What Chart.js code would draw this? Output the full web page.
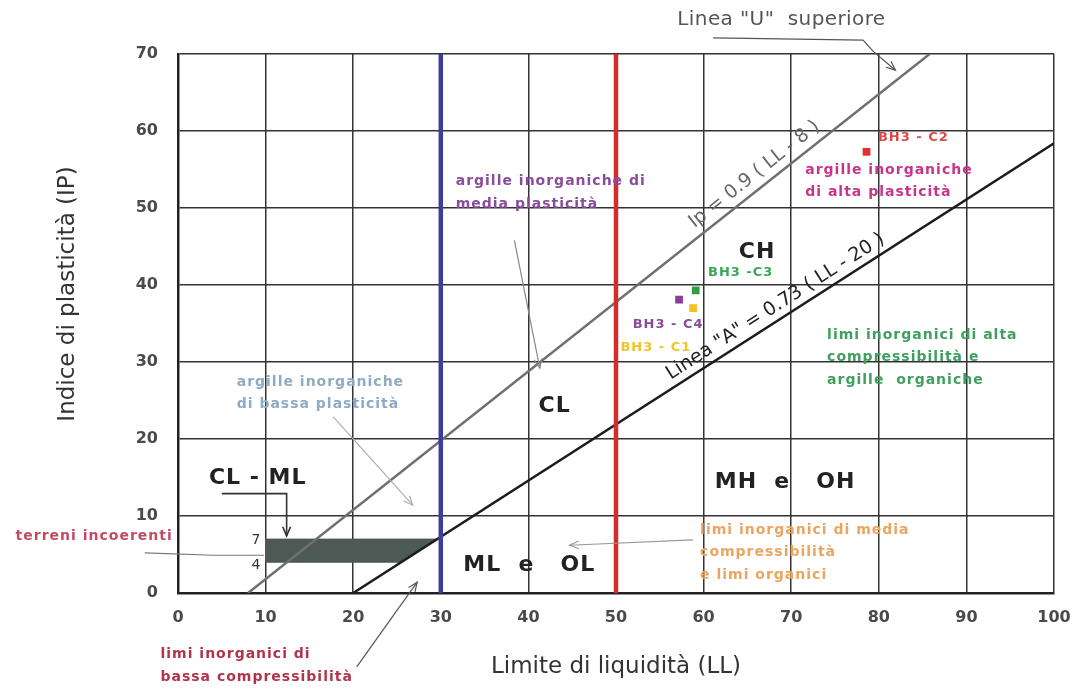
<!DOCTYPE html>
<html lang="it">
<head>
<meta charset="utf-8">
<title>Carta di plasticità di Casagrande</title>
<script src="https://cdn.jsdelivr.net/npm/chart.js@4.4.1/dist/chart.umd.min.js"></script>
<style>
  html, body { margin: 0; padding: 0; background: #fff; }
  #wrap { width: 1080px; height: 689px; position: relative; }
</style>
</head>
<body>
<div id="wrap"><canvas id="myChart"></canvas></div>
<script>
// Data
const xTicks = [0, 10, 20, 30, 40, 50, 60, 70, 80, 90, 100]
const yTicks = [0, 10, 20, 30, 40, 50, 60, 70]

// linea "U": Ip = 0.9 (LL - 8)
const uLineLL = [8, 85.8]
const uLineIP = [0, 70]
// linea "A": Ip = 0.73 (LL - 20)
const aLineLL = [20, 100]
const aLineIP = [0, 58.4]
// limiti LL = 30 e LL = 50
const lowLimitLL = [30, 30]
const highLimitLL = [50, 50]
const limitIP = [0, 70]
// zona CL - ML (Ip tra 4 e 7)
const clmlLL = [10, 29.6, 25.5, 10, 10]
const clmlIP = [7, 7, 4, 4, 7]

// campioni
const sampleNames = ['BH3 - C1', 'BH3 - C2', 'BH3 - C3', 'BH3 - C4']
const sampleLL = [58.8, 78.6, 59.1, 57.2]
const sampleIP = [37.0, 57.3, 39.3, 38.1]
const sampleColors = ['#f2c51e', '#e03030', '#2f9f4a', '#8a3f98']

const toPoints = (xs, ys) => xs.map((v, i) => ({ x: v, y: ys[i] }))

const small = 'bold 14px "DejaVu Sans"'
const big = 'bold 22px "DejaVu Sans"'

// text written on the chart (position in LL / IP units)
const labels = [
  { lines: ['Linea "U"  superiore'], ll: 57.0, ip: 74.4, font: '20px "DejaVu Sans"', color: '#555', sp: '0.4px' },
  { lines: ['CH'], ll: 66.1, ip: 44.3, font: big, color: '#222', align: 'center' },
  { lines: ['CL'], ll: 43.0, ip: 24.3, font: big, color: '#222', align: 'center' },
  { lines: ['CL - ML'], ll: 9.1, ip: 14.9, font: big, color: '#222', align: 'center', sp: '1px' },
  { lines: ['ML  e   OL'], ll: 40.1, ip: 3.6, font: big, color: '#222', align: 'center', sp: '1px' },
  { lines: ['MH  e   OH'], ll: 69.3, ip: 14.4, font: big, color: '#222', align: 'center', sp: '1px' },
  { lines: ['BH3 - C2'], ll: 79.9, ip: 59.2, font: 'bold 13px "DejaVu Sans"', color: '#e04848' },
  { lines: ['BH3 -C3'], ll: 60.5, ip: 41.6, font: 'bold 13px "DejaVu Sans"', color: '#3aa65a' },
  { lines: ['BH3 - C4'], ll: 51.9, ip: 34.9, font: 'bold 13px "DejaVu Sans"', color: '#8a4a9c' },
  { lines: ['BH3 - C1'], ll: 50.5, ip: 31.9, font: 'bold 13px "DejaVu Sans"', color: '#f0c428' },
  { lines: ['argille inorganiche', 'di alta plasticità'], ll: 71.6, ip: 54.9, font: small, color: '#c8348c' },
  { lines: ['limi inorganici di alta', 'compressibilità e', 'argille  organiche'], ll: 74.1, ip: 33.5, font: small, color: '#3f9f5f' },
  { lines: ['argille inorganiche di', 'media plasticità'], ll: 31.7, ip: 53.4, font: small, color: '#8a4c9c' },
  { lines: ['argille inorganiche', 'di bassa plasticità'], ll: 6.7, ip: 27.4, font: small, color: '#8fabc4' },
  { lines: ['limi inorganici di media', 'compressibilità', 'e limi organici'], ll: 59.6, ip: 8.2, font: small, color: '#eba560' },
  { lines: ['terreni incoerenti'], ll: -0.6, ip: 7.3, font: small, color: '#c44a62', align: 'right' },
  { lines: ['limi inorganici di', 'bassa compressibilità'], ll: -2.0, ip: -8.0, font: small, color: '#b2344a' },
  { lines: ['7'], ll: 8.9, ip: 6.9, font: '14px "DejaVu Sans"', color: '#333', align: 'center', sp: '0px' },
  { lines: ['4'], ll: 8.9, ip: 3.6, font: '14px "DejaVu Sans"', color: '#333', align: 'center', sp: '0px' }
]

// labels written along the two lines
const lineLabels = [
  { text: 'Ip = 0.9 ( LL - 8 )', ll: 66.8, slope: 0.9, root: 8, gap: 14, font: '19px "DejaVu Sans"', color: '#666' },
  { text: 'Linea "A" = 0.73 ( LL - 20 )', ll: 69.0, slope: 0.73, root: 20, gap: 13, font: '19px "DejaVu Sans"', color: '#222' }
]

const arrows = [
  { pts: [[61.1, 72.1], [78.2, 71.8], [79.4, 70.3], [81.9, 67.9]], color: '#555' },
  { pts: [[38.4, 45.8], [41.3, 29.2]], color: '#888' },
  { pts: [[17.7, 22.9], [26.8, 11.4]], color: '#a4b0bb' },
  { pts: [[5.0, 12.9], [12.4, 12.9], [12.4, 7.4]], color: '#333', w: 1.6 },
  { pts: [[58.8, 6.9], [44.7, 6.2]], color: '#999' },
  { pts: [[20.4, -9.6], [27.3, 1.4]], color: '#555' },
  { pts: [[-3.8, 5.2], [4.0, 4.9], [9.8, 4.9]], color: '#777', head: false }
]

const notes = {
  id: 'notes',
  afterDatasetsDraw (chart) {
    const { ctx, scales: { x, y } } = chart
    const px = v => x.getPixelForValue(v)
    const py = v => y.getPixelForValue(v)
    ctx.save()

    labels.forEach(l => {
      ctx.font = l.font
      ctx.fillStyle = l.color
      ctx.letterSpacing = l.sp || '1px'
      ctx.textAlign = l.align || 'left'
      ctx.textBaseline = 'middle'
      l.lines.forEach((t, i) => ctx.fillText(t, px(l.ll), py(l.ip) + i * 22.5))
    })
    ctx.letterSpacing = '0px'

    lineLabels.forEach(l => {
      const ang = Math.atan2(py(l.slope * 10) - py(0), px(l.root + 10) - px(l.root))
      const fx = px(l.ll)
      const fy = py(l.slope * (l.ll - l.root))
      ctx.save()
      ctx.translate(fx + Math.sin(ang) * l.gap, fy - Math.cos(ang) * l.gap)
      ctx.rotate(ang)
      ctx.font = l.font
      ctx.fillStyle = l.color
      ctx.textAlign = 'center'
      ctx.textBaseline = 'middle'
      ctx.fillText(l.text, 0, 0)
      ctx.restore()
    })

    arrows.forEach(a => {
      const p = a.pts.map(q => [px(q[0]), py(q[1])])
      ctx.strokeStyle = a.color
      ctx.lineWidth = a.w || 1.2
      ctx.beginPath()
      p.forEach((q, i) => i ? ctx.lineTo(q[0], q[1]) : ctx.moveTo(q[0], q[1]))
      ctx.stroke()
      if (a.head === false) return
      const [x1, y1] = p[p.length - 2]
      const [x2, y2] = p[p.length - 1]
      const t = Math.atan2(y2 - y1, x2 - x1)
      ctx.beginPath()
      ctx.moveTo(x2 - 10 * Math.cos(t - 0.4), y2 - 10 * Math.sin(t - 0.4))
      ctx.lineTo(x2, y2)
      ctx.lineTo(x2 - 10 * Math.cos(t + 0.4), y2 - 10 * Math.sin(t + 0.4))
      ctx.stroke()
    })

    // axis titles
    ctx.fillStyle = '#333'
    ctx.font = '23px "DejaVu Sans"'
    ctx.textAlign = 'center'
    ctx.textBaseline = 'middle'
    ctx.fillText('Limite di liquidità (LL)', (x.left + x.right) / 2, 667)
    ctx.translate(68, 294)
    ctx.rotate(-Math.PI / 2)
    ctx.fillText('Indice di plasticità (IP)', 0, 0)
    ctx.restore()
  }
}

const ctx = document.getElementById('myChart')
// eslint-disable-next-line no-unused-vars
const myChart = new Chart(ctx, {
  type: 'scatter',
  data: {
    datasets: [{
      label: 'CL - ML',
      data: toPoints(clmlLL, clmlIP),
      showLine: true,
      fill: 'shape',
      backgroundColor: '#4d5955',
      borderColor: '#4d5955',
      borderWidth: 1,
      pointRadius: 0,
      order: 6
    }, {
      label: 'Linea U',
      data: toPoints(uLineLL, uLineIP),
      showLine: true,
      borderColor: '#707070',
      borderWidth: 2.5,
      pointRadius: 0,
      order: 4
    }, {
      label: 'Linea A',
      data: toPoints(aLineLL, aLineIP),
      showLine: true,
      borderColor: '#1c1c1c',
      borderWidth: 2.5,
      pointRadius: 0,
      order: 4
    }, {
      label: 'LL 30',
      data: toPoints(lowLimitLL, limitIP),
      showLine: true,
      borderColor: '#3c3ca2',
      borderWidth: 4.5,
      pointRadius: 0,
      order: 2
    }, {
      label: 'LL 50',
      data: toPoints(highLimitLL, limitIP),
      showLine: true,
      borderColor: '#d42b2b',
      borderWidth: 4.5,
      pointRadius: 0,
      order: 2
    }, {
      label: 'Campioni',
      data: toPoints(sampleLL, sampleIP).map((p, i) => ({ ...p, name: sampleNames[i] })),
      pointStyle: 'rect',
      pointRadius: 5.5,
      pointBorderWidth: 0,
      pointBackgroundColor: sampleColors,
      order: 1
    }]
  },
  options: {
    responsive: true,
    maintainAspectRatio: false,
    animation: false,
    layout: { padding: { left: 0, top: 54, right: 26, bottom: 0 } },
    scales: {
      x: {
        type: 'linear',
        min: 0,
        max: 100,
        afterBuildTicks: s => { s.ticks = xTicks.map(v => ({ value: v })) },
        afterFit: s => { s.height = 96; s.paddingLeft = 0; s.paddingRight = 0 },
        grid: { color: '#333', lineWidth: 1.5, drawTicks: false },
        border: { color: '#222', width: 2.5 },
        ticks: { padding: 15, color: '#4a4a4a', font: { family: 'DejaVu Sans', size: 16, weight: 'bold' } }
      },
      y: {
        type: 'linear',
        min: 0,
        max: 70,
        afterBuildTicks: s => { s.ticks = yTicks.map(v => ({ value: v })) },
        afterFit: s => { s.width = 178; s.paddingTop = 0; s.paddingBottom = 0 },
        grid: { color: '#333', lineWidth: 1.5, drawTicks: false },
        border: { color: '#222', width: 2.5 },
        ticks: { padding: 20, color: '#4a4a4a', font: { family: 'DejaVu Sans', size: 16, weight: 'bold' } }
      }
    },
    plugins: {
      legend: { display: false },
      tooltip: { enabled: false }
    }
  },
  plugins: [notes]
})
</script>
</body>
</html>
